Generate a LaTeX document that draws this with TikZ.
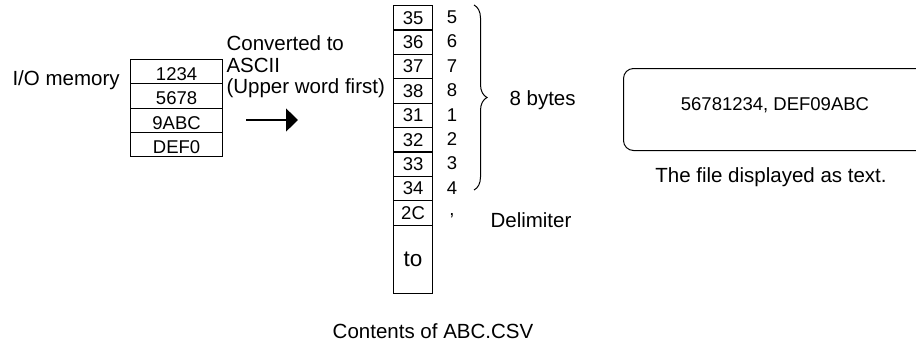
\documentclass[tikz,border=0pt]{standalone}
\usepackage{fontspec}
\setmainfont{Liberation Sans}
\usetikzlibrary{decorations.pathreplacing,arrows.meta}
\begin{document}
\begin{tikzpicture}[x=1bp,y=-1bp, line width=1.1bp,
  big/.style={font=\fontsize{20.5bp}{24bp}\selectfont, inner sep=0pt},
  small/.style={font=\fontsize{18.5bp}{22bp}\selectfont, inner sep=0pt},
  memcell/.style={draw, small, minimum width=92bp, minimum height=24.25bp, text height=18bp, text depth=0pt, anchor=north west},
  csvcell/.style={draw, small, minimum width=39bp, minimum height=24.4bp, anchor=north west},
  numlbl/.style={small},
  bracestyle/.style={decorate, decoration={brace, amplitude=13bp}, line width=1bp},
  convarrow/.style={-{Triangle[length=12bp,width=23bp]}, line width=1.3bp}]
\useasboundingbox (0,0) rectangle (916,347);

% I/O memory
\node[big, anchor=base west] (iolbl) at (12,85) {I/O memory};
\node[memcell] (m1) at (130,59) {1234};
\node[memcell] (m2) at (130,83.25) {5678};
\node[memcell] (m3) at (130,107.5) {9ABC};
\node[memcell] (m4) at (130,131.75) {DEF0};

% conversion text and arrow
\node[big, anchor=base west] (conv1) at (226,50) {Converted to};
\node[big, anchor=base west] (conv2) at (226,72) {ASCII};
\node[big, anchor=base west] (conv3) at (226,93) {(Upper word first)};
\coordinate (arS) at (246,120);
\coordinate (arE) at (298,120);
\draw[convarrow] (arS) -- (arE);

% CSV contents column
\foreach \i/\t/\n [count=\k from 0] in {1/35/5, 2/36/6, 3/37/7, 4/38/8, 5/31/1, 6/32/2, 7/33/3, 8/34/4} {
  \node[csvcell] (c\i) at (393,5+24.4*\k) {\t};
  \node[numlbl] (n\i) at (452,17.2+24.4*\k) {\n};
}
\node[csvcell] (c9) at (393,200.2) {2C};
\node[small, anchor=base] (n9) at (452,215) {,};
\node[draw, inner sep=0pt, font=\fontsize{22.5bp}{26bp}\selectfont, minimum width=39bp, minimum height=68bp, anchor=north west] (cto) at (393,224.6) {to};

% brace and labels
\coordinate (brT) at (474,5);
\coordinate (brB) at (474,190);
\draw[bracestyle] (brT) -- (brB);
\node[big, anchor=west] (bytes) at (509,100) {8 bytes};
\node[big, anchor=base west] (delim) at (490,227) {Delimiter};
\node[big, anchor=base] (contents) at (433,338) {Contents of ABC.CSV};

% displayed file
\node[draw, rounded corners=10bp, line width=1bp, minimum width=306bp, minimum height=82bp, anchor=north west] (disp) at (623,68) {};
\node[small] (disptxt) at (775,105) {56781234, DEF09ABC};
\node[big, anchor=base] (dispcap) at (771,182) {The file displayed as text.};
\end{tikzpicture}
\end{document}
